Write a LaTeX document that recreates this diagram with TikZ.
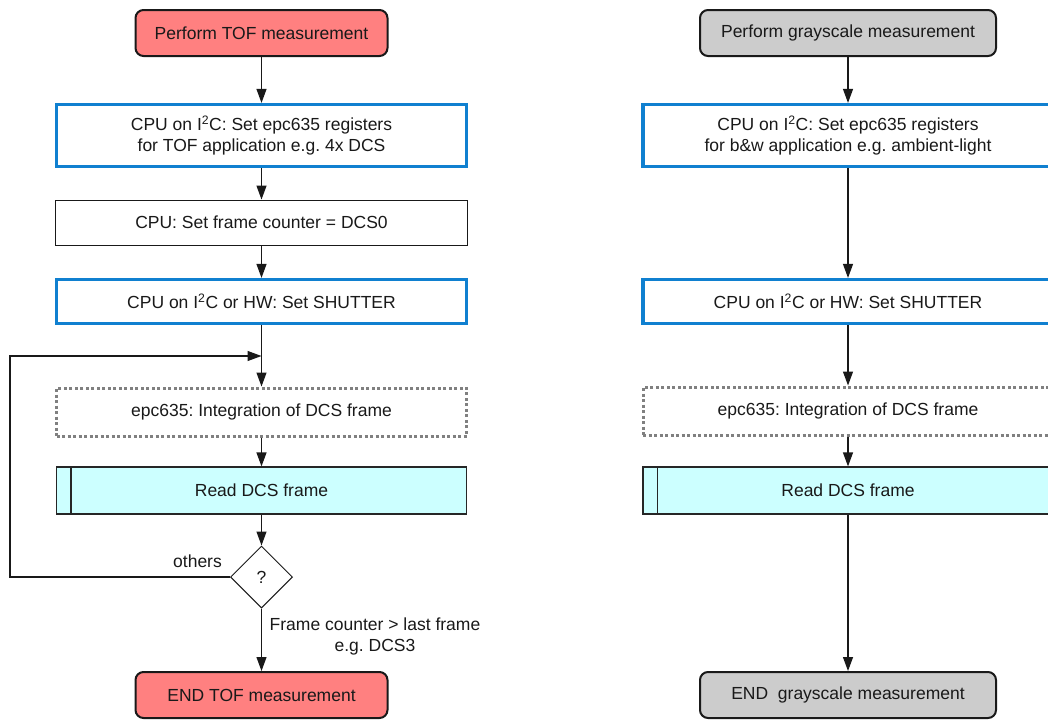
\documentclass[tikz,border=0pt]{standalone}
\usepackage{fontspec}
\setmainfont{Liberation Sans}
\frenchspacing
\usetikzlibrary{shapes.geometric,arrows.meta}
\definecolor{bluebd}{RGB}{16,128,208}
\definecolor{redfill}{RGB}{255,128,128}
\definecolor{grayfill}{RGB}{204,204,204}
\definecolor{cyanfill}{RGB}{204,255,255}
\definecolor{dotgray}{RGB}{128,128,128}
\tikzset{
  base/.style={inner sep=0pt, align=center, font=\fontsize{17.5}{21}\selectfont, text=black!90},
  term/.style={base, draw=black!90, line width=2pt, rounded corners=8pt, minimum height=46pt},
  bluebox/.style={base, draw=bluebd, line width=3.2pt, minimum width=410pt},
  plainbox/.style={base, draw=black!90, line width=0.9pt, minimum width=412pt, minimum height=45pt},
  dotbox/.style={base, draw=dotgray, line width=3pt, dash pattern=on 3pt off 2.5pt, minimum width=410pt, minimum height=48pt},
  readbox/.style={base, draw=black!85, line width=1.2pt, fill=cyanfill, minimum width=410pt, minimum height=47pt},
  decision/.style={base, diamond, draw=black!90, line width=1pt, minimum width=62pt, minimum height=62pt, aspect=1},
  lbl/.style={inner sep=0pt, align=center, font=\fontsize{17.5}{21}\selectfont, text=black!90},
  conn/.style={draw=black!90, line width=1.2pt, -{Triangle[length=14pt,width=10pt]}},
  line/.style={draw=black!90, line width=1.2pt}
}
\begin{document}
\begin{tikzpicture}[x=1pt,y=-1pt]
\useasboundingbox (0,0) rectangle (1048,720);
% left column
\node[term, fill=redfill, minimum width=252pt] (s1) at (261.5,33) {Perform TOF measurement};
\node[bluebox, minimum height=62pt] (b1) at (261.5,135.5) {CPU on I\textsuperscript{2}C: Set epc635 registers\\for TOF application e.g. 4x DCS};
\node[plainbox] (b2) at (261.5,222.5) {CPU: Set frame counter = DCS0};
\node[bluebox, minimum height=44pt] (b3) at (261.5,301.5) {CPU on I\textsuperscript{2}C or HW: Set SHUTTER};
\node[dotbox] (d1) at (261.5,412) {epc635: Integration of DCS frame};
\node[readbox] (r1) at (261.5,490.5) {Read DCS frame};
\draw[line width=1.2pt, draw=black!85] ([xshift=15pt]r1.north west) -- ([xshift=15pt]r1.south west);
\node[decision] (q) at (261.5,577) {?};
\node[term, fill=redfill, minimum width=252pt] (e1) at (261.5,695) {END TOF measurement};
\coordinate (lp1) at (10,577);
\coordinate (lp2) at (10,356);
\coordinate (jn) at (261.5,356);
\draw[conn] (s1) -- (b1);
\draw[conn] (b1) -- (b2);
\draw[conn] (b2) -- (b3);
\draw[conn] (b3) -- (d1);
\draw[conn] (d1) -- (r1);
\draw[conn] (r1) -- (q);
\draw[conn] (q) -- (e1);
\draw[conn] (q.west) -- (lp1) -- (lp2) -- (jn);
\node[lbl] (oth) at (197.5,561) {others};
\node[lbl] (fc) at (375,636) {Frame counter > last frame\\e.g. DCS3};
% right column
\node[term, fill=grayfill, minimum width=296pt] (s2) at (848,33) {Perform grayscale measurement};
\node[bluebox, minimum height=62pt] (c1) at (848,135.5) {CPU on I\textsuperscript{2}C: Set epc635 registers\\for b\&w application e.g. ambient-light};
\node[bluebox, minimum height=44pt] (c3) at (848,301.5) {CPU on I\textsuperscript{2}C or HW: Set SHUTTER};
\node[dotbox] (c4) at (848,411) {epc635: Integration of DCS frame};
\node[readbox] (c5) at (848,490.5) {Read DCS frame};
\draw[line width=1.2pt, draw=black!85] ([xshift=15pt]c5.north west) -- ([xshift=15pt]c5.south west);
\node[term, fill=grayfill, minimum width=296pt] (e2) at (848,695) {END~ grayscale measurement};
\draw[conn] (s2) -- (c1);
\draw[conn] (c1) -- (c3);
\draw[conn] (c3) -- (c4);
\draw[conn] (c4) -- (c5);
\draw[conn] (c5) -- (e2);
\end{tikzpicture}
\end{document}
